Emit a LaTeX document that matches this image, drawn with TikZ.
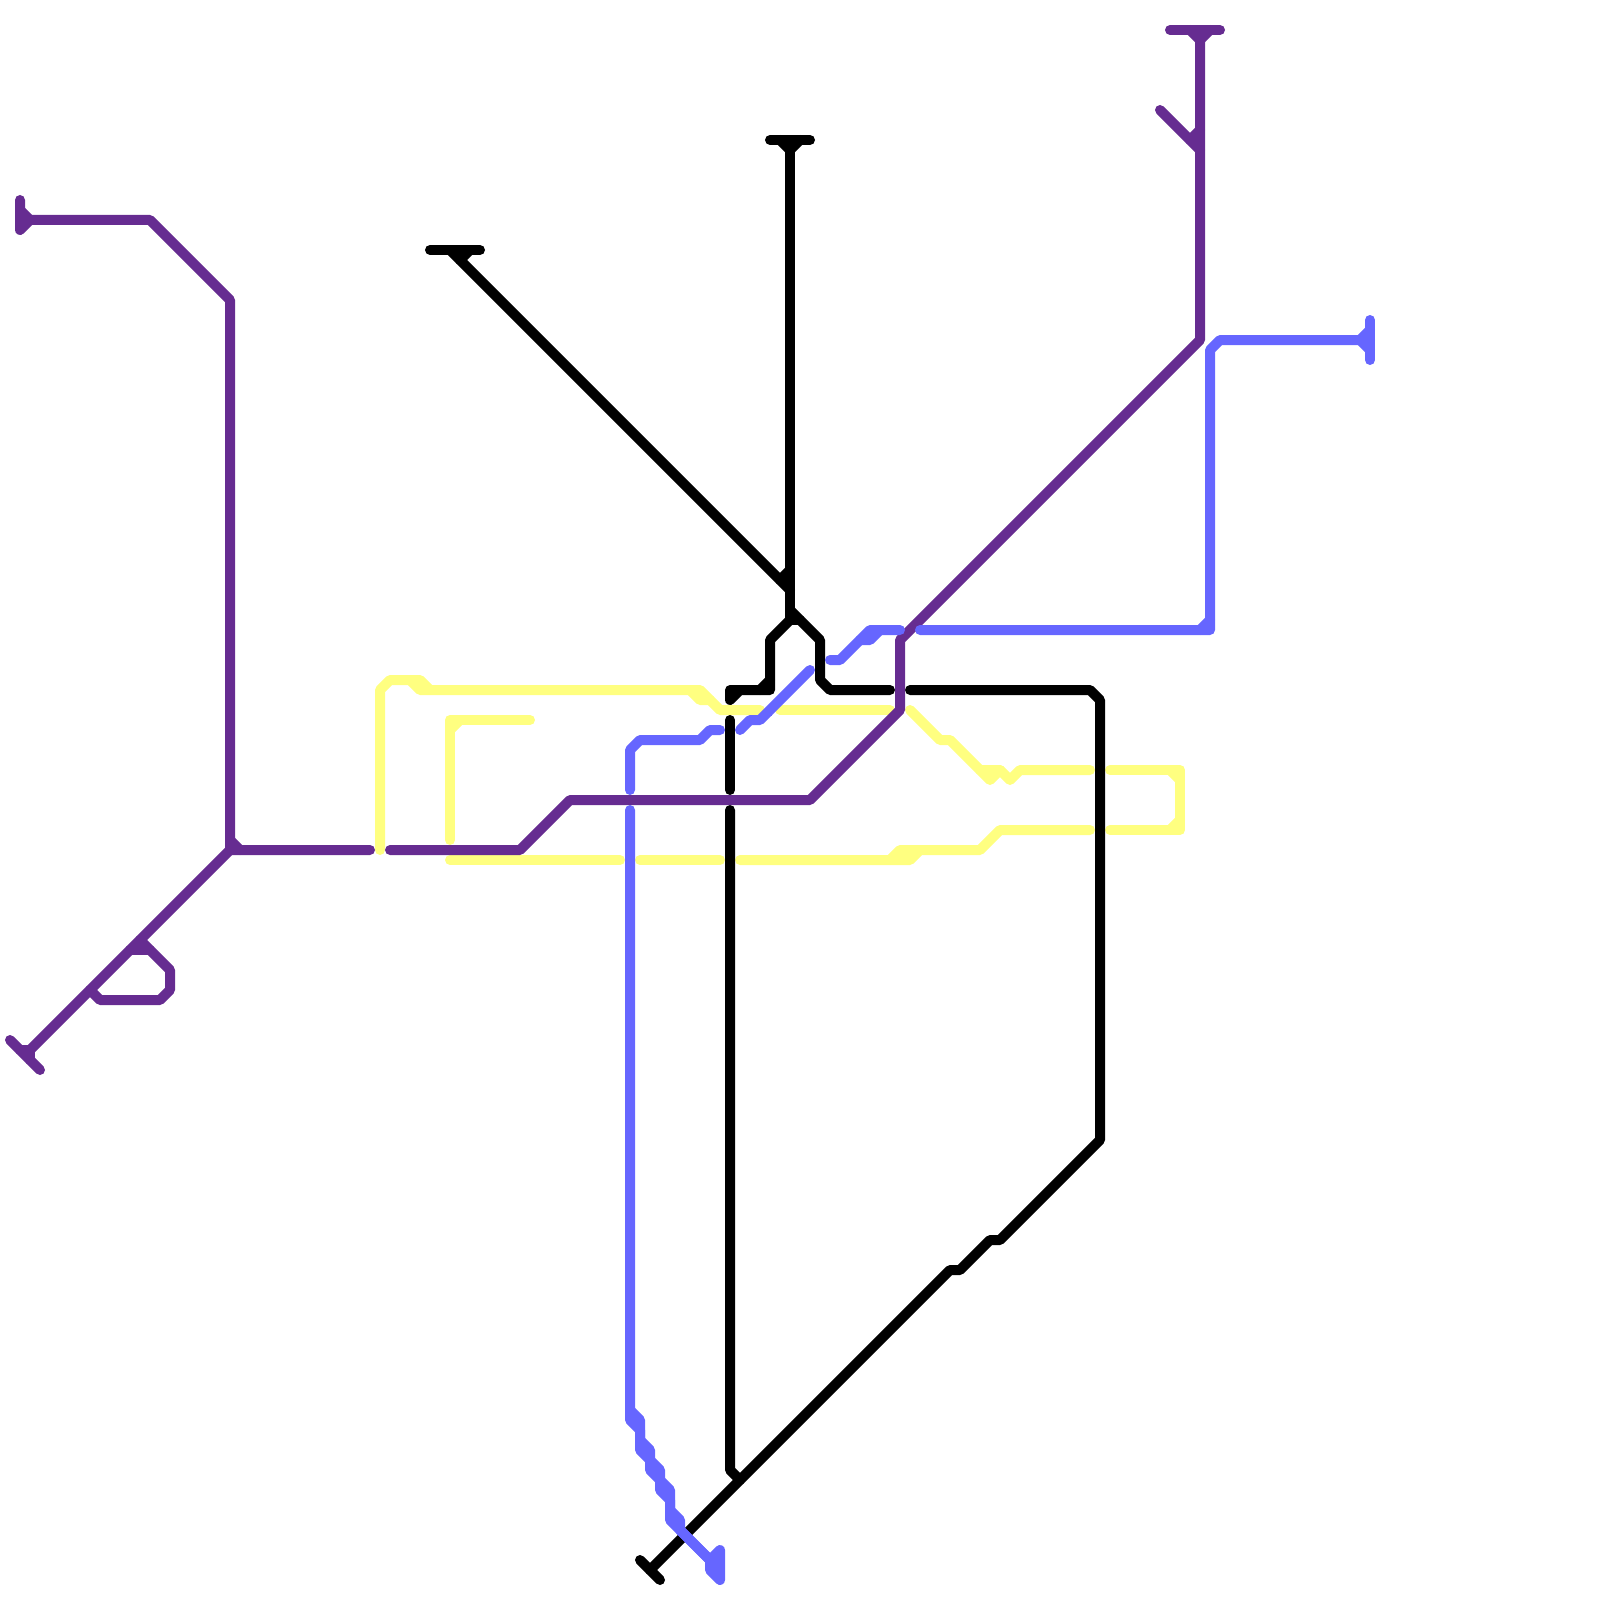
\documentclass[tikz,border=0pt]{standalone}
\usepackage{tikz}
\definecolor{metropurple}{HTML}{662C91}
\definecolor{metroblue}{HTML}{6666FF}
\definecolor{metroyellow}{HTML}{FFFF80}

\begin{document}
\begin{tikzpicture}[x=1mm,y=-1mm,line width=1mm,line cap=round,line join=round,
    yellowline/.style={draw=metroyellow},
    blackline/.style={draw=black},
    purpleline/.style={draw=metropurple},
    blueline/.style={draw=metroblue}]
    \useasboundingbox (0,0) rectangle (160,160);
    % yellow
    \draw[yellowline] (38,85) -- (38,69) -- (39,68) -- (42,68) -- (43,69) -- (70,69) -- (72,71) -- (76,71);
    \draw[yellowline] (41,68) -- (42,69) -- (43,69);
    \draw[yellowline] (69,69) -- (70,70) -- (71,70);
    \draw[yellowline] (78,71) -- (89,71);
    \draw[yellowline] (45,84) -- (45,72) -- (53,72);
    \draw[yellowline] (45,73) -- (46,72);
    \draw[yellowline] (45,86) -- (62,86);
    \draw[yellowline] (64,86) -- (72,86);
    \draw[yellowline] (74,86) -- (91,86) -- (92,85) -- (98,85) -- (100,83) -- (109,83);
    \draw[yellowline] (89,86) -- (90,85) -- (92,85);
    \draw[yellowline] (91,71) -- (94,74) -- (95,74) -- (99,78) -- (100,77) -- (101,78) -- (102,77) -- (109,77);
    \draw[yellowline] (98,77) -- (100,77);
    \draw[yellowline] (111,77) -- (118,77) -- (118,83) -- (111,83);
    \draw[yellowline] (117,77) -- (118,78);
    \draw[yellowline] (117,83) -- (118,82);
    % black
    \draw[blackline] (77,14) -- (81,14);
    \draw[blackline] (78,14) -- (79,15) -- (80,14);
    \draw[blackline] (79,15) -- (79,62) -- (80,62);
    \draw[blackline] (79,61) -- (82,64) -- (82,68) -- (83,69) -- (89,69);
    \draw[blackline] (79,62) -- (77,64) -- (77,69) -- (73,69) -- (73,70) -- (74,69);
    \draw[blackline] (76,69) -- (77,68);
    \draw[blackline] (43,25) -- (48,25);
    \draw[blackline] (45,25) -- (46,26) -- (47,25);
    \draw[blackline] (46,26) -- (79,59);
    \draw[blackline] (78,58) -- (79,57);
    \draw[blackline] (91,69) -- (109,69) -- (110,70) -- (110,114) -- (100,124) -- (99,124) -- (96,127) -- (95,127) -- (65,157);
    \draw[blackline] (64,156) -- (66,158);
    \draw[blackline] (73,72) -- (73,79);
    \draw[blackline] (73,81) -- (73,147) -- (74,148);
    % purple
    \draw[purpleline] (2,20) -- (2,23) -- (3,22) -- (15,22) -- (23,30) -- (23,85) -- (37,85);
    \draw[purpleline] (2,21) -- (3,22);
    \draw[purpleline] (23,84) -- (24,85);
    \draw[purpleline] (23,85) -- (3,105);
    \draw[purpleline] (1,104) -- (4,107);
    \draw[purpleline] (2,105) -- (3,105) -- (3,106);
    \draw[purpleline] (9,99) -- (10,100) -- (16,100) -- (17,99) -- (17,97) -- (14,94);
    \draw[purpleline] (13,95) -- (15,95);
    \draw[purpleline] (39,85) -- (52,85) -- (57,80) -- (81,80) -- (90,71) -- (90,64) -- (120,34) -- (120,4);
    \draw[purpleline] (117,3) -- (122,3);
    \draw[purpleline] (119,3) -- (120,4) -- (121,3);
    \draw[purpleline] (116,11) -- (120,15);
    \draw[purpleline] (119,14) -- (120,13);
    % blue
    \draw[blueline] (92,63) -- (121,63) -- (121,35) -- (122,34) -- (137,34);
    \draw[blueline] (120,63) -- (121,62);
    \draw[blueline] (137,32) -- (137,36);
    \draw[blueline] (137,33) -- (136,34) -- (137,35);
    \draw[blueline] (83,66) -- (84,66) -- (87,63) -- (90,63);
    \draw[blueline] (86,64) -- (87,64) -- (88,63);
    \draw[blueline] (74,73) -- (75,72) -- (76,72) -- (81,67);
    \fill[metroblue] (76.5,70.8) rectangle (77.2,71.6);
    \draw[blueline] (63,79) -- (63,75) -- (64,74) -- (70,74) -- (71,73) -- (72,73);
    \draw[blueline] (63,81) -- (63,142) -- (64,143) -- (64,145) -- (65,146) -- (65,147) -- (66,148) -- (66,149) -- (67,150) -- (67,152) -- (71,156) -- (71,157) -- (72,158) -- (72,155) -- (71,156);
    \draw[blueline] (63,141) -- (64,142) -- (64,144) -- (65,145) -- (65,146) -- (66,147) -- (66,148) -- (67,149) -- (67,151) -- (68,152) -- (68,153) -- (71,156);
\end{tikzpicture}
\end{document}
